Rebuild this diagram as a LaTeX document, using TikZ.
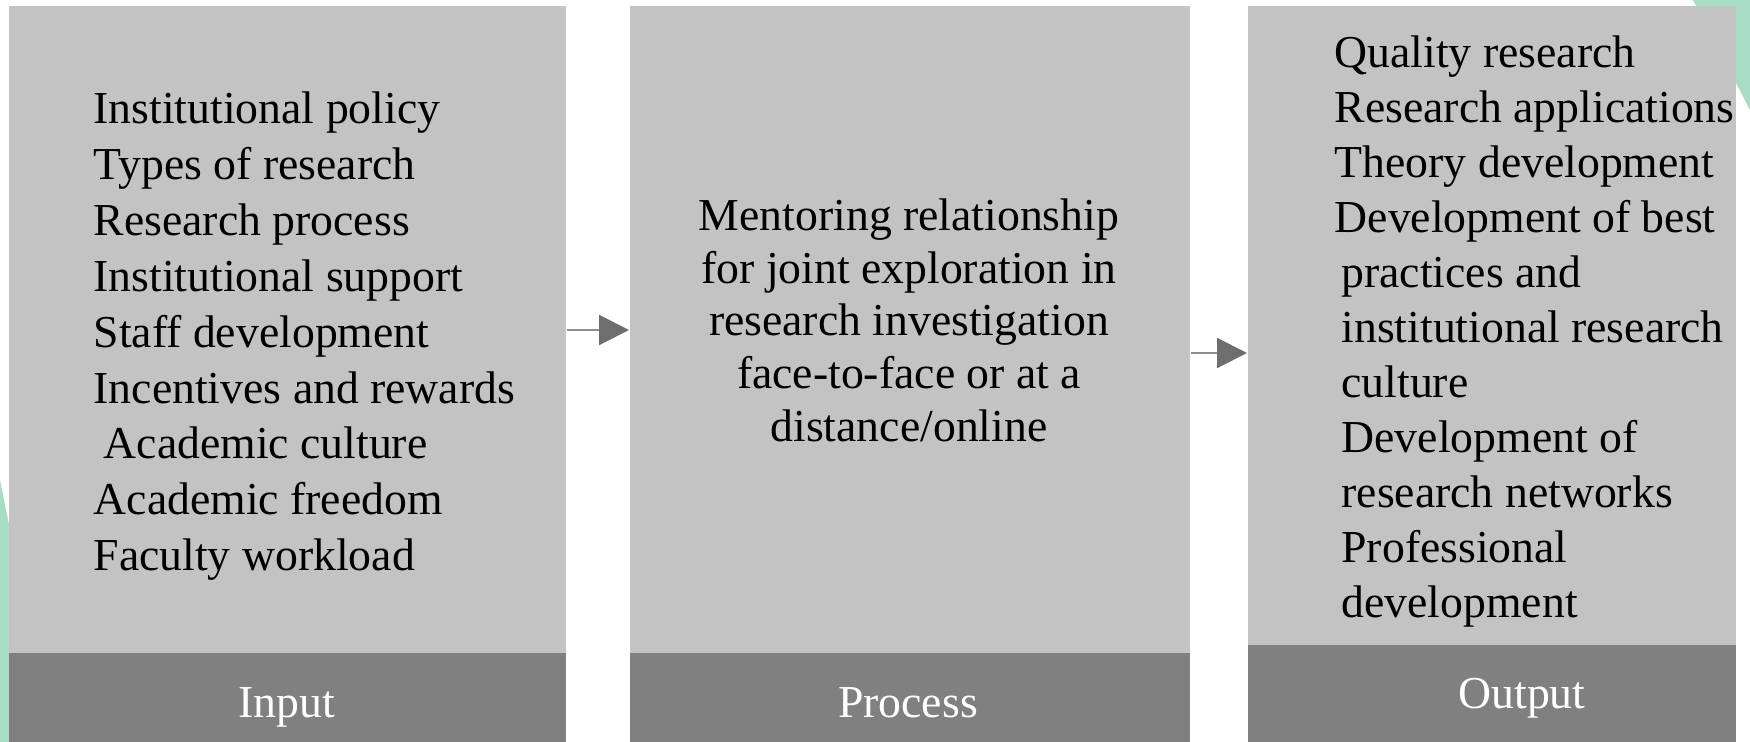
\documentclass[tikz,border=0pt]{standalone}
\usepackage{fontspec}
\setmainfont{Liberation Serif}
\usetikzlibrary{arrows.meta,positioning}
\definecolor{PanelClr}{rgb}{0.765,0.765,0.765}
\definecolor{BarClr}{rgb}{0.5,0.5,0.5}
\definecolor{MintClr}{rgb}{0.659,0.863,0.769}
\definecolor{LineClr}{rgb}{0.55,0.55,0.55}
\definecolor{HeadClr}{rgb}{0.43,0.43,0.43}

\begin{document}
\begin{tikzpicture}[x=0.01cm,y=-0.01cm,
  panel/.style={fill=PanelClr,inner sep=0pt,anchor=north west,minimum height=7.37cm},
  bar/.style={fill=BarClr,inner sep=0pt,anchor=south west},
  tag/.style={text=white,inner sep=0pt,font=\fontsize{13}{15.9}\selectfont},
  list/.style={align=left,inner sep=0pt,font=\fontsize{13}{15.9}\selectfont},
  flow/.style={draw=LineClr,line width=0.6pt,-{Triangle[length=8.5pt,width=8.5pt,color=HeadClr]}}]
\useasboundingbox (0,0) rectangle (1750,742);

\fill[MintClr] (0,480) -- (53,742) -- (0,742) -- cycle;
\fill[MintClr] (1693,0) -- (1750,0) -- (1750,110) -- cycle;

\node[panel,minimum width=5.57cm] (InputBox) at (8,5) {};
\node[panel,minimum width=5.60cm] (ProcessBox) at (629,5) {};
\node[panel,minimum width=4.88cm] (OutputBox) at (1247,5) {};

\node[bar,minimum width=5.57cm,minimum height=0.90cm] (InputBar) at (InputBox.south west) {};
\node[bar,minimum width=5.60cm,minimum height=0.90cm] (ProcessBar) at (ProcessBox.south west) {};
\node[bar,minimum width=4.88cm,minimum height=0.98cm] (OutputBar) at (OutputBox.south west) {};

\node[tag] (InputTag) at (287,707) {Input};
\node[tag] (ProcessTag) at (908,703) {Process};
\node[tag] (OutputTag) at (1522,698) {Output};

\node[list,anchor=north west] (InputList) at (93,91) {Institutional policy\\
  Types of research\\ Research process\\ Institutional support\\
  Staff development\\ Incentives and rewards\\ \hspace{0.22em}Academic culture\\
  Academic freedom\\ Faculty workload};

\node[list,align=center,anchor=north,font=\fontsize{13}{15}\selectfont] (ProcessList) at (909,198) {Mentoring relationship\\
  for joint exploration in\\ research investigation\\ face-to-face or at a\\
  distance/online};

\node[list,anchor=north west,font=\fontsize{13}{15.65}\selectfont] (OutputList) at (1334,35) {Quality research\\
  Research applications\\ Theory development\\ Development of best\\
  \hspace{0.15em}practices and\\ \hspace{0.15em}institutional research\\
  \hspace{0.15em}culture\\ \hspace{0.15em}Development of\\
  \hspace{0.15em}research networks\\ \hspace{0.15em}Professional\\
  \hspace{0.15em}development};

\draw[flow] (InputBox.east |- 0,330) -- (ProcessBox.west |- 0,330);
\draw[flow] (ProcessBox.east |- 0,353) -- (OutputBox.west |- 0,353);

\end{tikzpicture}
\end{document}
